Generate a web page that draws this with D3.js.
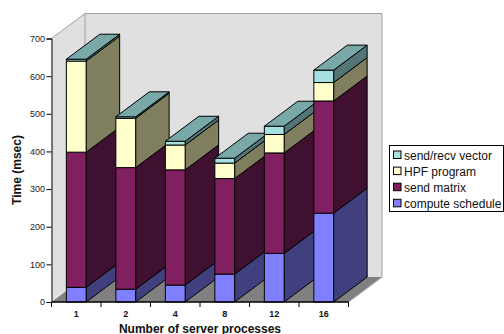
<!DOCTYPE html>
<html><head><meta charset="utf-8">
<script src="https://cdn.jsdelivr.net/npm/d3@7"></script>
<style>html,body{margin:0;padding:0;background:#fff}svg{display:block}text{font-family:"Liberation Sans",Arial,sans-serif}</style>
</head><body><svg id="c" width="504" height="334"></svg>
<script>
const categories = ["1","2","4","8","12","16"];
const seriesNames = ["compute schedule","send matrix","HPF program","send/recv vector"];
const computeSchedule = [39,34,45,74,129,236];
const sendMatrix = [359,323,306,254,267,298];
const hpfProgram = [242,131,66,41,49,49];
const sendRecvVector = [5,4,10,13,22,33];
const yTicks = [0,100,200,300,400,500,600,700];
const frontColors = ["#8080ff","#802060","#ffffcc","#a6e0e0"];
const sideColors = ["#40407f","#401030","#7f7f60","#537575"];
const topColor = "#78a8a8";

const rows = categories.map((c,i)=>({cat:c,[seriesNames[0]]:computeSchedule[i],[seriesNames[1]]:sendMatrix[i],[seriesNames[2]]:hpfProgram[i],[seriesNames[3]]:sendRecvVector[i]}));
const stacked = d3.stack().keys(seriesNames)(rows);
const svg = d3.select("#c");
const x0=51.5,x1=348.5,y0=302,y1=38.5,dx=33.5,dy=-25;
const x = d3.scaleBand().domain(categories).range([x0,x1]).paddingInner(0.6).paddingOuter(0.3);
const y = d3.scaleLinear().domain([0,700]).range([y0,y1]);
const poly=(pts,fill,stroke,w)=>svg.append("polygon").attr("points",pts.map(p=>p.join(",")).join(" ")).attr("fill",fill).attr("stroke",stroke).attr("stroke-width",w).attr("stroke-linejoin","round");

// walls and floor
poly([[x0,y1],[x0+dx,y1+dy],[x0+dx,y0+dy],[x0,y0]],"#e0e0e0","none",0);
poly([[x0+dx,y1+dy],[x1+dx,y1+dy],[x1+dx,y0+dy],[x0+dx,y0+dy]],"#e0e0e0","none",0);
poly([[x0,y0],[x0+dx,y0+dy],[x1+dx,y0+dy],[x1,y0]],"#808080","none",0);
svg.append("path").attr("fill","none").attr("stroke","#a0a0a0").attr("stroke-width",1)
  .attr("d",`M${x0},${y1}L${x0+dx},${y1+dy}H${x1+dx}V${y0+dy}L${x1},${y0}M${x0+dx},${y1+dy}V${y0+dy}`);

// bars
categories.forEach((c,i)=>{
  const l=x(c), r=l+x.bandwidth();
  stacked.forEach((s,k)=>{
    const a=y(s[i][0]), b=y(s[i][1]);
    poly([[r,a],[r+dx,a+dy],[r+dx,b+dy],[r,b]],sideColors[k],"#000",1);
    poly([[l,a],[r,a],[r,b],[l,b]],frontColors[k],"#000",1);
  });
  const t=y(stacked[3][i][1]);
  poly([[l,t],[l+dx,t+dy],[r+dx,t+dy],[r,t]],topColor,"#000",1);
});

// axes
const ay = svg.append("g").attr("transform",`translate(${x0},0)`).call(d3.axisLeft(y).tickValues(yTicks).tickSize(5).tickPadding(1.5));
ay.selectAll("text").attr("font-size",9).attr("fill","#222").style("font-family",'"Liberation Sans",Arial,sans-serif');
ay.selectAll("line,path").attr("stroke","#000").attr("stroke-width",1);
const ax = svg.append("g").attr("transform",`translate(0,${y0})`);
ax.append("path").attr("d",`M${x0},0H${x1}`).attr("stroke","#000").attr("stroke-width",1.3);
d3.range(categories.length+1).forEach(i=>ax.append("line").attr("x1",x0+i*x.step()).attr("x2",x0+i*x.step()).attr("y1",0).attr("y2",5).attr("stroke","#000"));
categories.forEach(c=>ax.append("text").attr("x",x(c)+x.bandwidth()/2).attr("y",15).attr("text-anchor","middle").attr("font-size",9).attr("font-weight","bold").attr("fill","#111").text(c));

svg.append("text").attr("x",200).attr("y",332.5).attr("text-anchor","middle").attr("font-size",12).attr("font-weight","bold").attr("fill","#111").text("Number of server processes");
svg.append("text").attr("transform","translate(20.5,170) rotate(-90)").attr("text-anchor","middle").attr("font-size",12).attr("font-weight","bold").attr("fill","#111").text("Time (msec)");

// legend
svg.append("rect").attr("x",389.5).attr("y",145.5).attr("width",114).attr("height",66).attr("fill","#fff").attr("stroke","#000").attr("stroke-width",1);
const legendOrder=[3,2,1,0];
legendOrder.forEach((k,i)=>{
  const ly=151+i*16.1;
  svg.append("rect").attr("x",393.5).attr("y",ly).attr("width",7.5).attr("height",7.5).attr("fill",frontColors[k]).attr("stroke","#000").attr("stroke-width",1);
  svg.append("text").attr("x",404).attr("y",ly+8.5).attr("font-size",12).attr("fill","#111").text(seriesNames[k]);
});
</script></body></html>
